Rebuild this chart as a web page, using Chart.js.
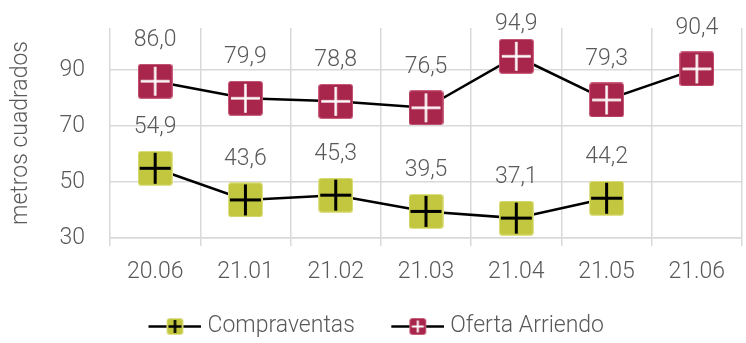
<!DOCTYPE html>
<html>
<head>
<meta charset="utf-8">
<script src="https://cdn.jsdelivr.net/npm/chart.js@4.4.1/dist/chart.umd.min.js"></script>
<style>
  html, body { margin: 0; padding: 0; background: #fff; }
  #wrap { width: 746px; height: 343px; position: relative; }
</style>
</head>
<body>
<div id="wrap"><canvas id="m2Chart"></canvas></div>
<script>
// ========== DATA ==========
const periodos = ["20.06", "21.01", "21.02", "21.03", "21.04", "21.05", "21.06"];
const compraventas = [54.9, 43.6, 45.3, 39.5, 37.1, 44.2, null];
const ofertaArriendo = [86.0, 79.9, 78.8, 76.5, 94.9, 79.3, 90.4];
const yTicks = [30, 50, 70, 90];

const FONT = "Roboto";
const TEXT_COLOR = "#595959";
const GRID_COLOR = "#d9d9d9";

// square marker with a cross through it; `lead` adds a line segment on both
// sides (legend swatch) and `blank` leaves empty room on the left
function makeMarker(size, fill, edge, cross, crossW, inset, lead, blank) {
  const stub = lead || 0;
  const off = blank || 0;
  const c = document.createElement("canvas");
  c.width = off + size + stub * 2;
  c.height = size;
  const g = c.getContext("2d");
  if (stub) {
    g.strokeStyle = "#000";
    g.lineWidth = 2.5;
    g.beginPath();
    g.moveTo(off, size / 2);
    g.lineTo(c.width, size / 2);
    g.stroke();
  }
  const x0 = off + stub;
  g.fillStyle = fill;
  g.strokeStyle = edge;
  g.lineWidth = 1;
  g.beginPath();
  g.roundRect(x0 + 0.5, 0.5, size - 1, size - 1, 2.5);
  g.fill();
  g.stroke();
  const arm = size / 2 - inset;
  const mid = size / 2;
  g.strokeStyle = cross;
  g.lineWidth = crossW;
  g.beginPath();
  g.moveTo(x0 + mid - arm, mid);
  g.lineTo(x0 + mid + arm, mid);
  g.moveTo(x0 + mid, mid - arm);
  g.lineTo(x0 + mid, mid + arm);
  g.stroke();
  return c;
}

const colVenta = "#c3c73f";
const colArriendo = "#a8254b";
const markVenta = makeMarker(35, colVenta, "#dfe18a", "#000", 3, 2);
const markArriendo = makeMarker(35, colArriendo, "#c9607e", "#fff", 2.5, 3);
const legVenta = makeMarker(17, colVenta, "#dfe18a", "#000", 2.5, 2, 18, 12);
const legArriendo = makeMarker(17, colArriendo, "#c9607e", "#fff", 2, 2.5, 18, 12);

const fmt = (v) => v.toFixed(1).replace(".", ",");

// value labels above each marker (kept inside the top of the canvas)
const valueLabels = {
  id: "valueLabels",
  afterDatasetsDraw(chart) {
    const ctx = chart.ctx;
    ctx.save();
    ctx.font = `300 23px ${FONT}`;
    ctx.fillStyle = TEXT_COLOR;
    ctx.textAlign = "center";
    ctx.textBaseline = "alphabetic";
    chart.data.datasets.forEach((ds, i) => {
      chart.getDatasetMeta(i).data.forEach((pt, j) => {
        const v = ds.data[j];
        if (v == null) return;
        const y = Math.max(pt.y - 35, 30);
        ctx.fillText(fmt(v), pt.x, y);
      });
    });
    ctx.restore();
  },
};

const ctx = document.getElementById("m2Chart").getContext("2d");
new Chart(ctx, {
  type: "line",
  data: {
    labels: periodos,
    datasets: [
      {
        label: "Compraventas",
        data: compraventas,
        borderColor: "#000",
        borderWidth: 2.5,
        pointStyle: markVenta,
        pointRadius: 0.1,
        pointBorderWidth: 0,
        tension: 0,
        fill: false,
      },
      {
        label: "Oferta Arriendo",
        data: ofertaArriendo,
        borderColor: "#000",
        borderWidth: 2.5,
        pointStyle: markArriendo,
        pointRadius: 0.1,
        pointBorderWidth: 0,
        tension: 0,
        fill: false,
      },
    ],
  },
  options: {
    responsive: true,
    maintainAspectRatio: false,
    animation: false,
    events: [],
    layout: { padding: { top: 28, left: 0, right: 0, bottom: 0 } },
    plugins: {
      tooltip: { enabled: false },
      legend: {
        position: "bottom",
        maxHeight: 58,
        labels: {
          usePointStyle: true,
          pointStyleWidth: 54,
          padding: 30,
          color: TEXT_COLOR,
          font: { family: FONT, size: 23, weight: 300 },
          generateLabels(chart) {
            const items = Chart.defaults.plugins.legend.labels.generateLabels(chart);
            items[0].pointStyle = legVenta;
            items[1].pointStyle = legArriendo;
            return items;
          },
        },
      },
    },
    scales: {
      x: {
        offset: true,
        grid: {
          offset: true,
          color: GRID_COLOR,
          lineWidth: 1.5,
          tickLength: 8,
          tickColor: GRID_COLOR,
        },
        border: { color: GRID_COLOR, width: 1.5 },
        ticks: {
          color: TEXT_COLOR,
          padding: 12,
          maxRotation: 0,
          font: { family: FONT, size: 23, weight: 300 },
        },
        afterFit(scale) {
          scale.height = 47;
          scale.paddingLeft = 0;
          scale.paddingRight = 0;
        },
      },
      y: {
        min: 30,
        max: 105,
        afterBuildTicks(scale) {
          scale.ticks = yTicks.map((v) => ({ value: v }));
        },
        grid: { color: GRID_COLOR, lineWidth: 1.5, drawTicks: false },
        border: { display: false },
        ticks: {
          color: TEXT_COLOR,
          padding: 25,
          font: { family: FONT, size: 23, weight: 300 },
        },
        title: {
          display: true,
          text: "metros cuadrados",
          color: TEXT_COLOR,
          padding: { top: 7, bottom: 0 },
          font: { family: FONT, size: 23, weight: 300 },
        },
        afterFit(scale) {
          scale.width = 110;
          scale.paddingTop = 0;
          scale.paddingBottom = 0;
        },
      },
    },
  },
  plugins: [valueLabels],
});
</script>
</body>
</html>
